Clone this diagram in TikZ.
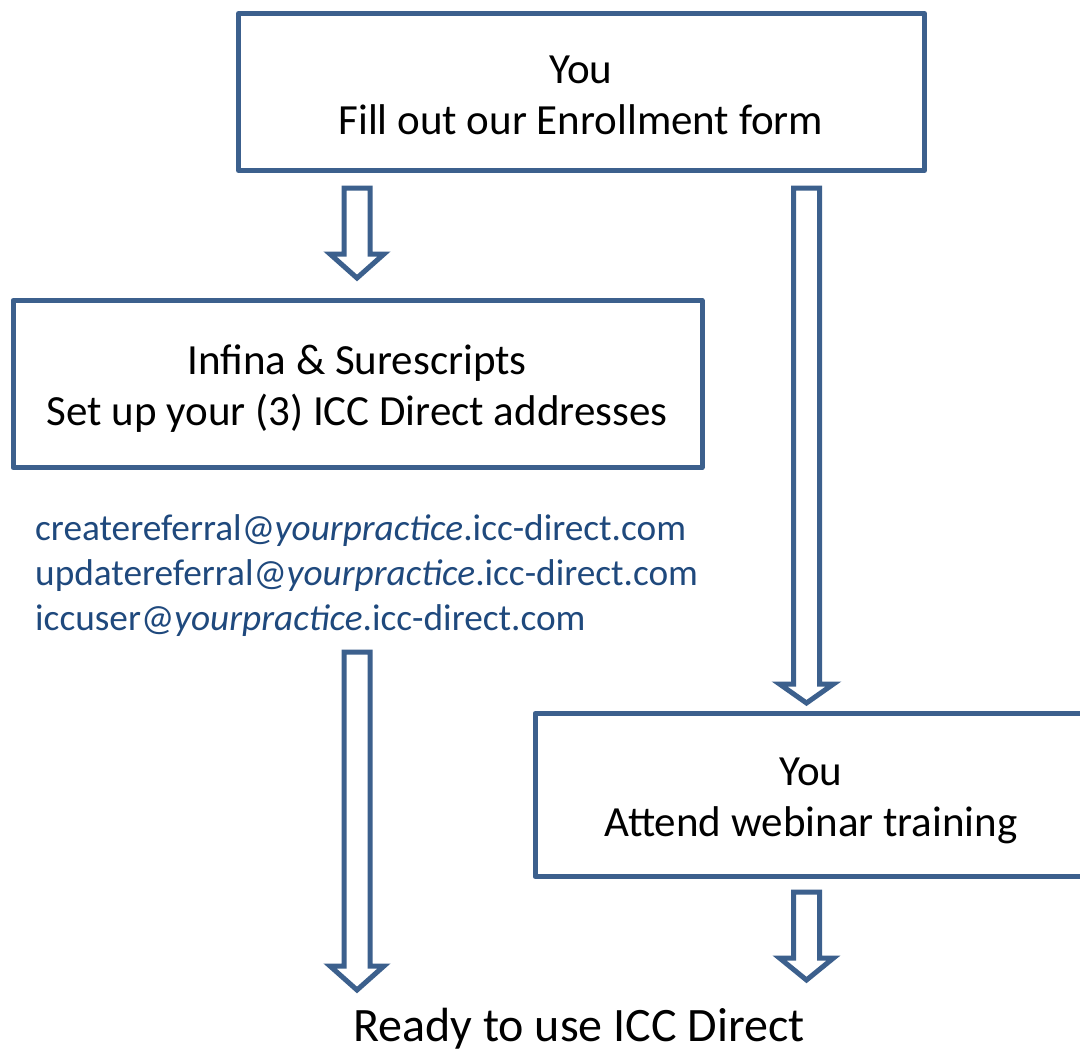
\documentclass[tikz,border=0pt]{standalone}
\usepackage{fontspec}
\setmainfont{Carlito}
\definecolor{boxblue}{RGB}{60,96,141}
\definecolor{mailblue}{RGB}{31,73,125}
\tikzset{
  stepbox/.style={draw=boxblue, line width=5pt, line join=round, fill=white, inner sep=0pt},
  boxtext/.style={font=\fontsize{43}{51}\selectfont, anchor=base, inner sep=0pt},
  blockarrow/.style={draw=boxblue, line width=5pt, line join=miter, fill=white},
  mail/.style={text=mailblue, font=\fontsize{37.3}{45}\selectfont, anchor=base west, inner sep=0pt},
}
\newcommand\blockarr[4]{%
  \draw[blockarrow] (#1-13,#2) -- (#1-13,#3) -- (#1-27,#3) -- (#1,#4) -- (#1+27,#3) -- (#1+13,#3) -- (#1+13,#2) -- cycle;}
\begin{document}
\begin{tikzpicture}[x=1pt,y=-1pt]
\useasboundingbox (0,0) rectangle (1080,1052);
\clip (0,0) rectangle (1080,1052);
\fill[white] (0,0) rectangle (1080,1052);
\node[stepbox, minimum width=686pt, minimum height=157pt] (enroll) at (581.5,92) {};
\node[boxtext] (enroll1) at (581,83) {You};
\node[boxtext] (enroll2) at (581,134) {Fill out our Enrollment form};
\node[stepbox, minimum width=689pt, minimum height=167pt] (setup) at (357.5,384) {};
\node[boxtext] (setup1) at (357,374) {Infina \& Surescripts};
\node[boxtext] (setup2) at (357,425) {Set up your (3) ICC Direct addresses};
\node[stepbox, minimum width=560pt, minimum height=163pt] (webinar) at (815,795) {};
\node[boxtext] (web1) at (811,785) {You};
\node[boxtext] (web2) at (811,836) {Attend webinar training};
\node[mail] (mail1) at (35,540) {createreferral@\textit{yourpractice}.icc-direct.com};
\node[mail] (mail2) at (35,585) {updatereferral@\textit{yourpractice}.icc-direct.com};
\node[mail] (mail3) at (35,630) {iccuser@\textit{yourpractice}.icc-direct.com};
\node[font=\fontsize{48}{56}\selectfont, anchor=base, inner sep=0pt] (ready) at (579,1041) {Ready to use ICC Direct};
\blockarr{357}{188}{254}{278}
\blockarr{806.5}{188}{684}{703}
\blockarr{357}{652}{966}{990}
\blockarr{806.5}{892}{958}{980}
\end{tikzpicture}
\end{document}
